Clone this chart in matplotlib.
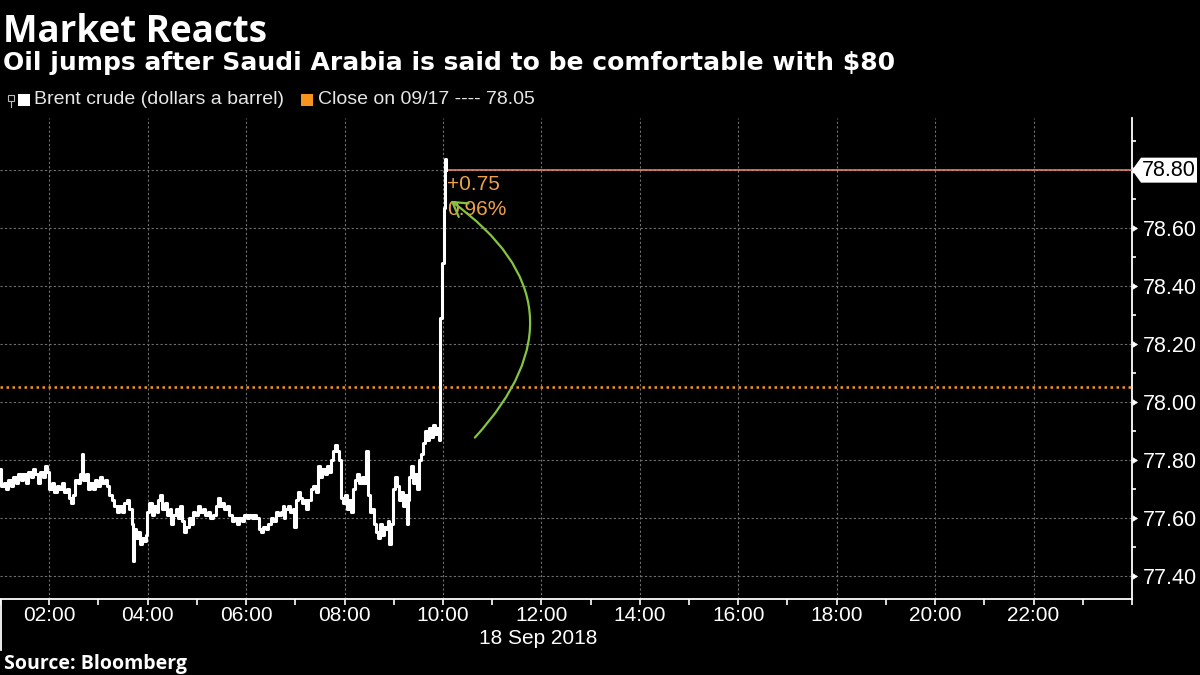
import numpy as np
import matplotlib.pyplot as plt
from matplotlib.patches import FancyArrowPatch, Rectangle, Polygon
from matplotlib.lines import Line2D

# --------------------- Data ------------------------

# Brent crude, 18 Sep 2018, hour of day vs. dollars a barrel
hours = [1.00, 1.02, 1.08, 1.12, 1.17, 1.22, 1.27, 1.32, 1.37, 1.42, 1.47, 1.52,
         1.57, 1.62, 1.67, 1.72, 1.77, 1.82, 1.87, 1.91, 1.95, 2.00, 2.05, 2.10,
         2.15, 2.20, 2.25, 2.30, 2.36, 2.40, 2.44, 2.48, 2.53, 2.58, 2.63, 2.66,
         2.69, 2.74, 2.78, 2.83, 2.88, 2.93, 2.98, 3.03, 3.08, 3.13, 3.17, 3.22,
         3.27, 3.32, 3.37, 3.42, 3.47, 3.52, 3.58, 3.63, 3.68, 3.70, 3.72, 3.76,
         3.80, 3.84, 3.88, 3.92, 3.96, 3.98, 4.03, 4.08, 4.13, 4.18, 4.22, 4.26,
         4.30, 4.35, 4.40, 4.45, 4.48, 4.52, 4.57, 4.62, 4.66, 4.70, 4.74, 4.78,
         4.83, 4.88, 4.92, 4.97, 5.02, 5.07, 5.12, 5.17, 5.22, 5.27, 5.32, 5.38,
         5.42, 5.46, 5.51, 5.56, 5.61, 5.66, 5.71, 5.76, 5.81, 5.86, 5.91, 5.96,
         6.01, 6.06, 6.11, 6.16, 6.21, 6.26, 6.30, 6.35, 6.40, 6.45, 6.50, 6.55,
         6.60, 6.65, 6.70, 6.75, 6.78, 6.80, 6.85, 6.90, 6.95, 6.98, 7.01, 7.05,
         7.09, 7.13, 7.17, 7.21, 7.26, 7.31, 7.36, 7.42, 7.47, 7.51, 7.55, 7.60,
         7.64, 7.68, 7.72, 7.76, 7.80, 7.84, 7.88, 7.93, 7.97, 8.01, 8.05, 8.09,
         8.13, 8.17, 8.21, 8.26, 8.30, 8.35, 8.40, 8.44, 8.47, 8.52, 8.56, 8.60,
         8.64, 8.68, 8.72, 8.76, 8.80, 8.84, 8.88, 8.91, 8.94, 8.98, 9.02, 9.06,
         9.10, 9.14, 9.18, 9.22, 9.26, 9.29, 9.32, 9.36, 9.40, 9.44, 9.48, 9.52,
         9.56, 9.60, 9.64, 9.68, 9.72, 9.76, 9.80, 9.84, 9.88, 9.92, 9.94, 9.98,
         10.02, 10.05, 10.07]
brent = [77.77, 77.71, 77.72, 77.70, 77.73, 77.71, 77.74, 77.72, 77.75, 77.73, 77.75, 77.72,
         77.76, 77.74, 77.77, 77.75, 77.72, 77.76, 77.74, 77.78, 77.76, 77.70, 77.72, 77.69,
         77.71, 77.70, 77.72, 77.69, 77.70, 77.67, 77.65, 77.68, 77.73, 77.72, 77.75, 77.82,
         77.73, 77.75, 77.70, 77.72, 77.70, 77.73, 77.71, 77.74, 77.72, 77.73, 77.71, 77.68,
         77.66, 77.64, 77.62, 77.64, 77.62, 77.65, 77.66, 77.63, 77.58, 77.45, 77.56, 77.53,
         77.55, 77.51, 77.53, 77.52, 77.54, 77.62, 77.65, 77.61, 77.64, 77.62, 77.66, 77.68,
         77.63, 77.65, 77.61, 77.63, 77.58, 77.61, 77.63, 77.60, 77.64, 77.59, 77.55, 77.57,
         77.60, 77.58, 77.62, 77.61, 77.64, 77.62, 77.63, 77.61, 77.62, 77.60, 77.61, 77.64,
         77.67, 77.64, 77.65, 77.63, 77.64, 77.61, 77.59, 77.60, 77.58, 77.60, 77.59, 77.61,
         77.60, 77.61, 77.60, 77.61, 77.60, 77.56, 77.55, 77.57, 77.56, 77.58, 77.60, 77.59,
         77.62, 77.61, 77.62, 77.64, 77.60, 77.63, 77.64, 77.62, 77.63, 77.57, 77.66, 77.69,
         77.67, 77.65, 77.66, 77.63, 77.66, 77.70, 77.71, 77.69, 77.78, 77.74, 77.77, 77.75,
         77.78, 77.76, 77.80, 77.83, 77.85, 77.83, 77.80, 77.67, 77.65, 77.68, 77.63, 77.66,
         77.62, 77.70, 77.73, 77.75, 77.72, 77.74, 77.72, 77.83, 77.68, 77.62, 77.63, 77.58,
         77.55, 77.53, 77.58, 77.54, 77.57, 77.56, 77.59, 77.51, 77.58, 77.70, 77.74, 77.71,
         77.66, 77.69, 77.64, 77.68, 77.58, 77.66, 77.74, 77.78, 77.72, 77.75, 77.70, 77.80,
         77.82, 77.86, 77.90, 77.87, 77.91, 77.88, 77.92, 77.89, 77.91, 77.87, 78.29, 78.48,
         78.67, 78.84, 78.80]

prev_close = 78.05
change_labels = ["+0.75", "0.96%"]

y_ticks = [77.40, 77.60, 77.80, 78.00, 78.20, 78.40, 78.60, 78.80]
y_minor = [77.50, 77.70, 77.90, 78.10, 78.30, 78.50, 78.70, 78.90]
x_ticks = [2, 4, 6, 8, 10, 12, 14, 16, 18, 20, 22]
x_labels = ["02:00", "04:00", "06:00", "08:00", "10:00", "12:00",
            "14:00", "16:00", "18:00", "20:00", "22:00"]
x_minor = list(range(1, 25))

# green arrow, from below the jump up to the change text
arrow_from = (10.61, 77.87)
arrow_to = (10.11, 78.70)

# --------------------- Style ------------------------

W, H = 1200, 675
BG = "black"
ORANGE = "#f7941d"
LAST_LINE = "#f0916a"
TXT_ORANGE = "#eda04a"
GREEN = "#86c440"
GRID = "#6e6e6e"
SANS = ["Liberation Sans", "DejaVu Sans"]
BOLD = ["Open Sans", "DejaVu Sans"]
WIDE_BOLD = ["DejaVu Sans"]

plt.rcParams["font.family"] = SANS


def fx(x):
    return x / W


def fy(y):
    return 1 - y / H


fig = plt.figure(figsize=(W / 100, H / 100), dpi=100, facecolor=BG)
ax = fig.add_axes([0, fy(599), fx(1132), (599 - 118) / H], facecolor=BG)

ax.set_xlim(1, 24)
ax.set_ylim(77.32, 78.98)

# price line
ax.plot(hours, brent, color="white", lw=2.2, drawstyle="steps-post", zorder=5)

# previous close and last price lines
ax.axhline(prev_close, color=ORANGE, ls=(0, (1, 1.4)), lw=1.8, zorder=3)
ax.hlines(brent[-1], hours[-1], 24, color=LAST_LINE, lw=1.1, zorder=4)

# change annotation
ax.annotate(change_labels[0], (hours[-1], brent[-1]), xytext=(1, -14),
            textcoords="offset pixels", color=TXT_ORANGE, fontsize=15,
            ha="left", va="center", zorder=6)
ax.annotate(change_labels[1], (hours[-1], brent[-1]), xytext=(1, -39),
            textcoords="offset pixels", color=TXT_ORANGE, fontsize=15,
            ha="left", va="center", zorder=6)

arrow = FancyArrowPatch(arrow_from, arrow_to, connectionstyle="arc3,rad=0.57",
                        arrowstyle="->,head_length=0.5,head_width=0.3",
                        mutation_scale=20, color=GREEN, lw=1.6, zorder=7)
ax.add_patch(arrow)

# grid / spines
ax.set_xticks(x_ticks)
ax.set_xticklabels(x_labels)
ax.set_xticks(x_minor, minor=True)
ax.set_yticks(y_ticks)
ax.set_yticklabels(["" if abs(v - brent[-1]) < 1e-9 else f"{v:.2f}" for v in y_ticks])
ax.set_yticks(y_minor, minor=True)
ax.yaxis.tick_right()
ax.grid(True, which="major", color=GRID, ls=(0, (2, 2)), lw=0.8)

for side in ["left", "top"]:
    ax.spines[side].set_visible(False)
for side in ["bottom", "right"]:
    ax.spines[side].set_color("white")
    ax.spines[side].set_linewidth(1.3)

ax.tick_params(axis="x", which="both", colors="white", direction="out",
               length=4, width=1.2, labelsize=15, pad=1)
ax.tick_params(axis="y", which="minor", colors="white", direction="out",
               length=3, width=1.2)
ax.tick_params(axis="y", which="major", colors="white", direction="out",
               length=5, width=0.5, labelsize=15.5, pad=3)
for t in ax.yaxis.get_major_ticks():
    t.tick2line.set_marker(9)  # caret right, base on the spine

# last price tag
y0 = fig.transFigure.inverted().transform(ax.transData.transform((1, brent[-1])))[1]
tag = Polygon([(fx(1132), y0), (fx(1141), y0 + 12.5 / H), (fx(1197), y0 + 12.5 / H),
               (fx(1197), y0 - 12.5 / H), (fx(1141), y0 - 12.5 / H)],
              closed=True, transform=fig.transFigure, facecolor="white",
              edgecolor="none")
fig.add_artist(tag)
fig.text(fx(1169), y0, f"{brent[-1]:.2f}", color="black", fontsize=15.5,
         ha="center", va="center")

# date and day separator
fig.text(fx(538), fy(639), "18 Sep 2018", color="white", fontsize=15,
         ha="center", va="center")
fig.add_artist(Line2D([fx(0.7), fx(0.7)], [fy(600), fy(650)], color="white",
                      lw=1.3, transform=fig.transFigure))

# --------------------- Titles & legend ------------------------
fig.text(fx(3), fy(42), "Market Reacts", color="white", fontsize=26.5,
         fontweight="bold", family=BOLD, ha="left", va="baseline")
fig.text(fx(3), fy(70), "Oil jumps after Saudi Arabia is said to be comfortable with $80",
         color="white", fontsize=18, fontweight="bold", family=WIDE_BOLD,
         ha="left", va="baseline")

# tiny chart-type icon, then the two legend entries
fig.add_artist(Rectangle((fx(8), fy(101)), fx(6), 6 / H, transform=fig.transFigure,
                         facecolor="none", edgecolor="#bbbbbb", lw=0.8))
fig.add_artist(Line2D([fx(11), fx(11)], [fy(107), fy(101)], color="#bbbbbb",
                      lw=0.8, transform=fig.transFigure))
fig.add_artist(Rectangle((fx(18), fy(106)), fx(12), 12 / H, transform=fig.transFigure,
                         facecolor="white", edgecolor="none"))
fig.text(fx(34), fy(100), "Brent crude (dollars a barrel)", color="#e6e6e6",
         fontsize=14, ha="left", va="center")
fig.add_artist(Rectangle((fx(301), fy(106)), fx(12), 12 / H, transform=fig.transFigure,
                         facecolor=ORANGE, edgecolor="none"))
fig.text(fx(318), fy(100), f"Close on 09/17 ---- {prev_close:.2f}", color="#e6e6e6",
         fontsize=14, ha="left", va="center")

fig.text(fx(4), fy(664), "Source: Bloomberg", color="white", fontsize=14,
         fontweight="bold", family=BOLD, ha="left", va="center")

fig.savefig("out.png", dpi=100, facecolor=BG)
